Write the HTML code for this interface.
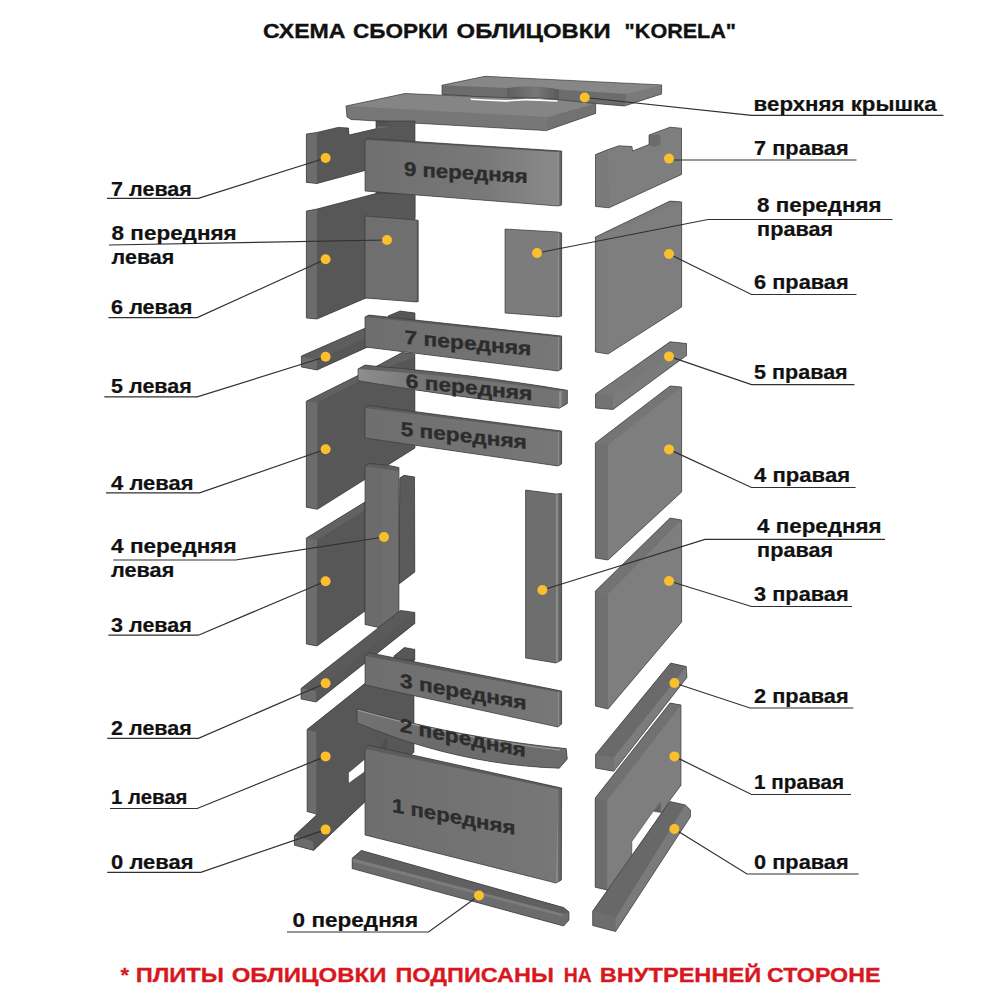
<!DOCTYPE html>
<html><head><meta charset="utf-8"><style>
html,body{margin:0;padding:0;background:#fff;}
body{width:1000px;height:1000px;overflow:hidden;font-family:"Liberation Sans",sans-serif;}
svg{display:block;}
</style></head><body>
<svg width="1000" height="1000" viewBox="0 0 1000 1000">
<defs>
<linearGradient id="gF" x1="365" y1="0" x2="558" y2="0" gradientUnits="userSpaceOnUse"><stop offset="0" stop-color="#6e6e6e"/><stop offset="1" stop-color="#777777"/></linearGradient>
<linearGradient id="gF9" x1="365" y1="0" x2="558" y2="0" gradientUnits="userSpaceOnUse"><stop offset="0" stop-color="#6f6f6f"/><stop offset="0.6" stop-color="#787878"/><stop offset="1" stop-color="#8a8a8a"/></linearGradient>
<linearGradient id="gE" x1="0" y1="0" x2="1" y2="0"><stop offset="0" stop-color="#939393"/><stop offset="0.3" stop-color="#868686"/><stop offset="0.45" stop-color="#6a6a6a"/><stop offset="1" stop-color="#5c5c5c"/></linearGradient>
<linearGradient id="gEnd" x1="0" y1="0" x2="1" y2="0"><stop offset="0" stop-color="#9a9a9a"/><stop offset="0.25" stop-color="#8a8a8a"/><stop offset="0.35" stop-color="#707070"/><stop offset="1" stop-color="#6a6a6a"/></linearGradient>
<linearGradient id="gBar" x1="358" y1="0" x2="430" y2="0" gradientUnits="userSpaceOnUse"><stop offset="0" stop-color="#8e8e8e"/><stop offset="1" stop-color="#737373"/></linearGradient>
<linearGradient id="gBar2" x1="357" y1="0" x2="430" y2="0" gradientUnits="userSpaceOnUse"><stop offset="0" stop-color="#727272"/><stop offset="1" stop-color="#6c6c6c"/></linearGradient>
<linearGradient id="gNotch" x1="507" y1="0" x2="559" y2="0" gradientUnits="userSpaceOnUse"><stop offset="0" stop-color="#5e5e5e"/><stop offset="0.55" stop-color="#787878"/><stop offset="1" stop-color="#5a5a5a"/></linearGradient>
</defs>
<polygon points="441.92,85.21 441.99,85.21 441.99,94.41 506.99,98.51 513.5,97.89 520,97.51 526.5,97.39 533,97.51 539.5,97.89 546,98.51 552.5,99.39 559.01,100.51 624.39,106.01 661.61,94.01 661.61,84.91 661.67,84.89 661.61,84.89 485,76.29 441.92,85.21" fill="#878787"/>
<polygon points="442,85.2 485,76.3 661.6,84.9 626.8,94 559,89.5 552.5,88.32 546,87.42 539.5,86.8 533,86.47 526.5,86.43 520,86.67 513.5,87.19 507,88" fill="#878787" />
<polygon points="442,85.2 507,88 507,98.5 442,94.4" fill="#6c6c6c" />
<polygon points="559,89.5 626.8,94 624.4,106 559,100.5" fill="#6c6c6c" />
<polygon points="626.8,94 661.6,84.9 661.6,94 624.4,106" fill="#7a7a7a" />
<polygon points="507,88 513.5,87.19 520,86.67 526.5,86.43 533,86.47 539.5,86.8 546,87.42 552.5,88.32 559,89.5 559,100.5 552.5,99.38 546,98.5 539.5,97.88 533,97.5 526.5,97.38 520,97.5 513.5,97.88 507,98.5" fill="url(#gNotch)" />
<polygon points="441.92,85.21 441.99,85.21 441.99,94.41 506.99,98.51 513.5,97.89 520,97.51 526.5,97.39 533,97.51 539.5,97.89 546,98.51 552.5,99.39 559.01,100.51 624.39,106.01 661.61,94.01 661.61,84.91 661.67,84.89 661.61,84.89 485,76.29 441.92,85.21" fill="none" stroke="#333333" stroke-width="0.6" stroke-linejoin="round"/>
<polygon points="345.92,106.01 345.99,106.01 346.99,117.01 351,119.51 546.39,130.61 595.61,113.41 595.65,103.6 557,99.49 470,96.39 405,93.49 345.92,106.01" fill="#858585"/>
<polygon points="346,106 405,93.5 470,96.4 557,99.5 595.6,103.6 547.6,117" fill="#858585" />
<polygon points="346,106 547.6,117 546.4,130.6 351,119.5 347,117" fill="#777777" />
<polygon points="547.6,117 595.6,103.6 595.6,113.4 546.4,130.6" fill="#727272" />
<polygon points="345.92,106.01 345.99,106.01 346.99,117.01 351,119.51 546.39,130.61 595.61,113.41 595.65,103.6 557,99.49 470,96.39 405,93.49 345.92,106.01" fill="none" stroke="#333333" stroke-width="0.6" stroke-linejoin="round"/>
<polygon points="470.5,98.6 490,99.4 506,100.1 516,99.4 526,98.8 540,99.3 557.5,100.2 557.5,101.8 540,100.9 526,100.4 516,101 506,101.7 490,101 471,100.1" fill="#ffffff"/>
<polygon points="316.99,183.51 375.99,167.59 375.99,218.01 415.01,218.01 415.01,120.99 375.99,120.99 375.99,128.72 349.01,134.99 348.41,127.99 338,127.39 317,132.39 306.39,133.99 306.39,182.41 316.99,183.51" fill="#575757"/>
<polygon points="376,121 415,121 415,218 376,218" fill="#575757" />
<polygon points="317,132.4 338,127.4 348.4,128 349,135 377,128.5 380,128 380,166.5 317,183.5" fill="#575757" />
<polygon points="377.4,121 387.6,121 387.6,126.6 377.4,128" fill="#525252" />
<polygon points="377.4,126.6 387.6,126.2 387.6,127.3 377.4,128.2" fill="#6a6a6a" />
<polygon points="306.4,134 317,132.4 317,183.5 306.4,182.4" fill="#6c6c6c" />
<polygon points="316.99,183.51 375.99,167.59 375.99,218.01 415.01,218.01 415.01,120.99 375.99,120.99 375.99,128.72 349.01,134.99 348.41,127.99 338,127.39 317,132.39 306.39,133.99 306.39,182.41 316.99,183.51" fill="none" stroke="#333333" stroke-width="0.6" stroke-linejoin="round"/>
<polygon points="316.99,319.02 415.01,277.01 415.01,192.99 378,192.99 317,208.99 306.39,210.99 306.39,318.01 316.99,319.02" fill="#575757"/>
<polygon points="317,209 378,193 415,193 415,277 317,319" fill="#575757" />
<polygon points="306.4,211 317,209 317,319 306.4,318" fill="#6c6c6c" />
<polygon points="316.99,319.02 415.01,277.01 415.01,192.99 378,192.99 317,208.99 306.39,210.99 306.39,318.01 316.99,319.02" fill="none" stroke="#333333" stroke-width="0.6" stroke-linejoin="round"/>
<polygon points="364.96,140.01 364.99,191.01 557.99,206.01 561.61,205.01 561.66,150.99 368,138.49 364.96,140.01" fill="#6e6e6e"/>
<polygon points="365,140 558,152 558,206 365,191" fill="url(#gF9)" />
<polygon points="365,140 368,138.5 561.6,151 558,152" fill="#5c5c5c" />
<polygon points="558,152 561.6,151 561.6,205 558,206" fill="url(#gE)" />
<polygon points="364.96,140.01 364.99,191.01 557.99,206.01 561.61,205.01 561.66,150.99 368,138.49 364.96,140.01" fill="none" stroke="#333333" stroke-width="0.6" stroke-linejoin="round"/>
<polygon points="364.99,298.01 416.49,302.01 418.21,301.51 418.21,220.49 416.49,219.99 364.99,215.99 364.99,298.01" fill="#6f6f6f"/>
<polygon points="365,216 416.5,220 416.5,302 365,298" fill="#6f6f6f" />
<polygon points="416.5,220 418.2,220.5 418.2,301.5 416.5,302" fill="#5e5e5e" />
<polygon points="364.99,298.01 416.49,302.01 418.21,301.51 418.21,220.49 416.49,219.99 364.99,215.99 364.99,298.01" fill="none" stroke="#333333" stroke-width="0.6" stroke-linejoin="round"/>
<polygon points="607.99,149.59 595.49,154.49 595.49,206.51 609.01,207.81 681.51,174.51 681.51,128.19 670,127.19 648.99,134.99 648.99,144.49 632.51,150.99 632.01,146.49 619,145.79 607.99,149.59" fill="#7e7e7e"/>
<polygon points="608,149.6 619,145.8 632,146.5 632.5,151 649,144.5 649,135 670,127.2 681.5,128.2 681.5,174.5 609,207.8" fill="#7e7e7e" />
<polygon points="595.5,154.5 608,149.6 609,207.8 595.5,206.5" fill="#7a7a7a" />
<polygon points="649,135.5 659,134.5 660.5,136.5 660.5,144.5 654,147 649,145" fill="#6c6c6c" />
<polygon points="607.99,149.59 595.49,154.49 595.49,206.51 609.01,207.81 681.51,174.51 681.51,128.19 670,127.19 648.99,134.99 648.99,144.49 632.51,150.99 632.01,146.49 619,145.79 607.99,149.59" fill="none" stroke="#333333" stroke-width="0.6" stroke-linejoin="round"/>
<polygon points="504.99,313.01 557.99,317.01 561.61,316.01 561.61,232.99 557.99,231.99 504.99,228.99 504.99,313.01" fill="#7c7c7c"/>
<polygon points="505,229 558,232 558,317 505,313" fill="#7c7c7c" />
<polygon points="558,232 561.6,233 561.6,316 558,317" fill="url(#gE)" />
<polygon points="504.99,313.01 557.99,317.01 561.61,316.01 561.61,232.99 557.99,231.99 504.99,228.99 504.99,313.01" fill="none" stroke="#333333" stroke-width="0.6" stroke-linejoin="round"/>
<polygon points="595.27,237.05 595.39,237.01 595.39,352.01 607.99,354.02 681.61,307.01 681.64,201.99 670,200.99 595.27,237.05" fill="#7e7e7e"/>
<polygon points="608,233 670,201 681.6,202 681.6,307 608,354" fill="#7e7e7e" />
<polygon points="595.4,237 608,233 608,354 595.4,352" fill="#7c7c7c" />
<polygon points="595.4,237 670,201 681.6,202 608,233" fill="#7b7b7b" />
<polygon points="595.27,237.05 595.39,237.01 595.39,352.01 607.99,354.02 681.61,307.01 681.64,201.99 670,200.99 595.27,237.05" fill="none" stroke="#333333" stroke-width="0.6" stroke-linejoin="round"/>
<polygon points="387.99,315.99 387.99,322.01 415.01,322.01 415.01,312.99 400,310.99 387.99,315.99" fill="#575757"/>
<polygon points="388,316 400,311 415,313 415,322 388,322" fill="#575757" />
<polygon points="387.99,315.99 387.99,322.01 415.01,322.01 415.01,312.99 400,310.99 387.99,315.99" fill="none" stroke="#333333" stroke-width="0.6" stroke-linejoin="round"/>
<polygon points="301.37,356 301.39,367.01 317.01,370.01 370.01,346.01 370.01,325.98 301.37,356" fill="#575757"/>
<polygon points="317,360 370,336.3 370,346 317,370" fill="#575757" />
<polygon points="301.4,356 370,326 370,336.3 317,360" fill="#5e5e5e" />
<polygon points="301.4,356 317,360 317,370 301.4,367" fill="#6c6c6c" />
<polygon points="301.37,356 301.39,367.01 317.01,370.01 370.01,346.01 370.01,325.98 301.37,356" fill="none" stroke="#333333" stroke-width="0.6" stroke-linejoin="round"/>
<polygon points="306.27,401.21 306.29,507.21 317.41,509.31 415.01,448.01 414.81,353.99 402,352.49 377,365.99 306.27,401.21" fill="#575757"/>
<polygon points="317.4,402.7 357,382.3 388.4,367 414.8,357 415,448 317.4,509.3" fill="#575757" />
<polygon points="306.3,401.2 357,376 377,366 402,352.5 414.8,354 414.8,357 388.4,367 357,382.3 317.4,402.7" fill="#616161" />
<polygon points="306.3,401.2 317.4,402.7 317.4,509.3 306.3,507.2" fill="#6c6c6c" />
<polygon points="306.27,401.21 306.29,507.21 317.41,509.31 415.01,448.01 414.81,353.99 402,352.49 377,365.99 306.27,401.21" fill="none" stroke="#333333" stroke-width="0.6" stroke-linejoin="round"/>
<polygon points="364.96,317.01 364.99,347.01 557.99,371.02 561.61,369.01 561.65,336 369,314.99 364.96,317.01" fill="#6e6e6e"/>
<polygon points="365,317 558,337 558,371 365,347" fill="url(#gF)" />
<polygon points="365,317 369,315 561.6,336 558,337" fill="#5c5c5c" />
<polygon points="558,337 561.6,336 561.6,369 558,371" fill="url(#gE)" />
<polygon points="364.96,317.01 364.99,347.01 557.99,371.02 561.61,369.01 561.65,336 369,314.99 364.96,317.01" fill="none" stroke="#333333" stroke-width="0.6" stroke-linejoin="round"/>
<polygon points="357.97,369.01 357.99,380.61 378.37,384.02 398.69,387.28 418.96,390.4 439.17,393.38 459.32,396.21 479.43,398.9 499.48,401.44 519.47,403.84 539.41,406.1 559.29,408.22 567.31,403.61 567.31,390.31 567.38,390.3 567.31,390.29 543.02,386.35 518.83,382.67 494.73,379.26 470.72,376.11 446.81,373.24 422.98,370.62 399.25,368.27 375.6,366.19 365,364.99 357.97,369.01" fill="#626262"/>
<polygon points="358,369 365,365 375.6,366.2 399.25,368.28 422.98,370.63 446.81,373.25 470.72,376.12 494.73,379.27 518.83,382.68 543.02,386.36 567.3,390.3 559.3,391 541.21,388.26 522.67,385.64 503.68,383.14 484.23,380.76 464.32,378.5 443.97,376.36 423.16,374.34 401.89,372.44 380.17,370.66 358,369" fill="#626262" />
<polygon points="358,369 380.17,370.66 401.89,372.44 423.16,374.34 443.97,376.36 464.32,378.5 484.23,380.76 503.68,383.14 522.67,385.64 541.21,388.26 559.3,391 567.3,390.3 567.3,403.6 559.3,408.2 539.41,406.09 519.47,403.83 499.48,401.43 479.43,398.89 459.32,396.2 439.17,393.37 418.96,390.39 398.69,387.27 378.37,384.01 358,380.6" fill="url(#gBar)" />
<polygon points="559.3,391 567.3,390.3 567.3,403.6 559.3,408.2" fill="url(#gEnd)" />
<polygon points="357.97,369.01 357.99,380.61 378.37,384.02 398.69,387.28 418.96,390.4 439.17,393.38 459.32,396.21 479.43,398.9 499.48,401.44 519.47,403.84 539.41,406.1 559.29,408.22 567.31,403.61 567.31,390.31 567.38,390.3 567.31,390.29 543.02,386.35 518.83,382.67 494.73,379.26 470.72,376.11 446.81,373.24 422.98,370.62 399.25,368.27 375.6,366.19 365,364.99 357.97,369.01" fill="none" stroke="#333333" stroke-width="0.6" stroke-linejoin="round"/>
<polygon points="364.97,408.01 364.99,438.01 557.99,466.02 561.61,464.01 561.65,431 369,405.49 364.97,408.01" fill="#6e6e6e"/>
<polygon points="365,408 558,432 558,466 365,438" fill="url(#gF)" />
<polygon points="365,408 369,405.5 561.6,431 558,432" fill="#5c5c5c" />
<polygon points="558,432 561.6,431 561.6,464 558,466" fill="url(#gE)" />
<polygon points="364.97,408.01 364.99,438.01 557.99,466.02 561.61,464.01 561.65,431 369,405.49 364.97,408.01" fill="none" stroke="#333333" stroke-width="0.6" stroke-linejoin="round"/>
<polygon points="595.47,394.01 595.49,408.01 613.01,409.51 686.51,355.51 686.53,343.49 670,341.79 595.47,394.01" fill="#7b7b7b"/>
<polygon points="612.5,396 686.5,343.5 686.5,355.5 613,409.5" fill="#7b7b7b" />
<polygon points="595.5,394 670,341.8 686.5,343.5 612.5,396" fill="#787878" />
<polygon points="595.5,394 612.5,396 613,409.5 595.5,408" fill="#727272" />
<polygon points="595.47,394.01 595.49,408.01 613.01,409.51 686.51,355.51 686.53,343.49 670,341.79 595.47,394.01" fill="none" stroke="#333333" stroke-width="0.6" stroke-linejoin="round"/>
<polygon points="595.38,443.01 595.39,558.01 607.99,560.02 681.61,492 681.63,386.99 670,385.99 595.38,443.01" fill="#7e7e7e"/>
<polygon points="608,445 681.6,387 681.6,492 608,560" fill="#7e7e7e" />
<polygon points="595.4,443 670,386 681.6,387 608,445" fill="#757575" />
<polygon points="595.4,443 608,445 608,560 595.4,558" fill="#717171" />
<polygon points="595.38,443.01 595.39,558.01 607.99,560.02 681.61,492 681.63,386.99 670,385.99 595.38,443.01" fill="none" stroke="#333333" stroke-width="0.6" stroke-linejoin="round"/>
<polygon points="306.37,538.01 306.39,644.01 316.99,646.02 365.01,611.01 365.01,501.98 306.37,538.01" fill="#575757"/>
<polygon points="317,540 365,510 365,611 317,646" fill="#575757" />
<polygon points="306.4,538 365,502 365,510 317,540" fill="#626262" />
<polygon points="306.4,538 317,540 317,646 306.4,644" fill="#6c6c6c" />
<polygon points="306.37,538.01 306.39,644.01 316.99,646.02 365.01,611.01 365.01,501.98 306.37,538.01" fill="none" stroke="#333333" stroke-width="0.6" stroke-linejoin="round"/>
<polygon points="399.79,478.09 398.99,584.02 414.81,572 414.51,476.99 404,475.29 399.79,478.09" fill="#5a5a5a"/>
<polygon points="399.8,478.1 404,475.3 414.5,477 414.8,572 399,584" fill="#5a5a5a" />
<polygon points="399.79,478.09 398.99,584.02 414.81,572 414.51,476.99 404,475.29 399.79,478.09" fill="none" stroke="#333333" stroke-width="0.6" stroke-linejoin="round"/>
<polygon points="364.97,466.51 364.99,624.51 382.99,628.51 392,630.01 399.01,627.01 399.01,467.59 389.3,465.49 369,463.39 364.97,466.51" fill="#6b6b6b"/>
<polygon points="365,466.5 383,468.9 383,628.5 365,624.5" fill="#6b6b6b" />
<polygon points="383,468.9 399,471 399,627 392,630 383,628.5" fill="#6e6e6e" />
<polygon points="365,466.5 369,463.4 389.3,465.5 399,467.6 399,471 383,468.9" fill="#5e5e5e" />
<polygon points="364.97,466.51 364.99,624.51 382.99,628.51 392,630.01 399.01,627.01 399.01,467.59 389.3,465.49 369,463.39 364.97,466.51" fill="none" stroke="#333333" stroke-width="0.6" stroke-linejoin="round"/>
<polygon points="525.59,658.01 555.99,663.02 561.61,660.01 561.61,493.59 556,493.99 525.59,489.99 525.59,658.01" fill="#6e6e6e"/>
<polygon points="525.6,490 556,494 556,663 525.6,658" fill="#6e6e6e" />
<polygon points="556,494 561.6,493.6 561.6,660 556,663" fill="url(#gE)" />
<polygon points="525.59,658.01 555.99,663.02 561.61,660.01 561.61,493.59 556,493.99 525.59,489.99 525.59,658.01" fill="none" stroke="#333333" stroke-width="0.6" stroke-linejoin="round"/>
<polygon points="595.38,591.01 595.39,706.01 607.99,709.03 681.61,622 681.61,519.98 670,517.99 595.38,591.01" fill="#7e7e7e"/>
<polygon points="608,594 681.6,520 681.6,622 608,709" fill="#7e7e7e" />
<polygon points="595.4,591 670,518 681.6,520 608,594" fill="#737373" />
<polygon points="595.4,591 608,594 608,709 595.4,706" fill="#707070" />
<polygon points="595.38,591.01 595.39,706.01 607.99,709.03 681.61,622 681.61,519.98 670,517.99 595.38,591.01" fill="none" stroke="#333333" stroke-width="0.6" stroke-linejoin="round"/>
<polygon points="294.38,835.6 294.39,845.21 313.61,850.41 364.81,802.01 414.01,752 414.01,649.98 364.69,683.59 307.09,729.49 307.09,811.61 316.39,814.01 315.99,815.59 294.38,835.6" fill="#575757"/>
<polygon points="307.1,729.5 364.7,683.6 414,650 414,752 364.8,802 313.6,850.4 312.8,841.2 294.4,835.6 316,815.6 316.4,814" fill="#575757" />
<polygon points="307.1,729.5 316.4,732.2 316.4,814 307.1,811.6" fill="#6c6c6c" />
<polygon points="294.4,835.6 312.8,841.2 313.6,850.4 294.4,845.2" fill="#6c6c6c" />
<polygon points="294.38,835.6 294.39,845.21 313.61,850.41 364.81,802.01 414.01,752 414.01,649.98 364.69,683.59 307.09,729.49 307.09,811.61 316.39,814.01 315.99,815.59 294.38,835.6" fill="none" stroke="#333333" stroke-width="0.6" stroke-linejoin="round"/>
<polygon points="348.5,772.7 364.7,759.2 364.7,771.8 348.5,783.5" fill="#ffffff" stroke="#333" stroke-width="0.5"/>
<polygon points="300.98,688.41 300.99,699.01 316.01,702.01 414.81,623.4 414.82,612.39 400.5,610.39 300.98,688.41" fill="#575757"/>
<polygon points="316,691 414.8,612.4 414.8,623.4 316,702" fill="#575757" />
<polygon points="301,688.4 400.5,610.4 414.8,612.4 316,691" fill="#5a5a5a" />
<polygon points="301,688.4 316,691 316,702 301,699" fill="#6c6c6c" />
<polygon points="300.98,688.41 300.99,699.01 316.01,702.01 414.81,623.4 414.82,612.39 400.5,610.39 300.98,688.41" fill="none" stroke="#333333" stroke-width="0.6" stroke-linejoin="round"/>
<polygon points="393.99,656 393.99,660.01 414.81,660.01 414.81,649.39 404.4,647.49 393.99,656" fill="#575757"/>
<polygon points="394,656 404.4,647.5 414.8,649.4 414.8,660 394,660" fill="#575757" />
<polygon points="393.99,656 393.99,660.01 414.81,660.01 414.81,649.39 404.4,647.49 393.99,656" fill="none" stroke="#333333" stroke-width="0.6" stroke-linejoin="round"/>
<polygon points="364.98,656.01 364.99,685.01 557.99,727.02 561.61,724 561.61,690.99 369,652.69 364.98,656.01" fill="#6e6e6e"/>
<polygon points="365,656 558,692 558,727 365,685" fill="url(#gF)" />
<polygon points="365,656 369,652.7 561.6,691 558,692" fill="#5c5c5c" />
<polygon points="558,692 561.6,691 561.6,724 558,727" fill="url(#gE)" />
<polygon points="364.98,656.01 364.99,685.01 557.99,727.02 561.61,724 561.61,690.99 369,652.69 364.98,656.01" fill="none" stroke="#333333" stroke-width="0.6" stroke-linejoin="round"/>
<polygon points="356.99,708.99 356.99,722.81 373.84,729.57 390.68,735.79 407.52,741.47 424.37,746.61 441.22,751.21 458.07,755.26 474.94,758.77 491.8,761.74 508.67,764.17 525.54,766.06 542.42,767.41 559.3,768.21 567.31,759 566.21,748.59 548.68,746.7 531.17,744.55 513.67,742.14 496.2,739.48 478.74,736.56 461.3,733.39 443.87,729.96 426.47,726.28 409.07,722.34 391.7,718.15 374.34,713.7 356.99,708.99" fill="#6e6e6e"/>
<polygon points="357,709 374.34,713.71 391.7,718.16 409.07,722.35 426.47,726.29 443.87,729.97 461.3,733.4 478.74,736.57 496.2,739.49 513.67,742.15 531.17,744.56 548.68,746.71 566.2,748.6 567.3,759 559.3,768.2 542.42,767.4 525.54,766.05 508.67,764.16 491.8,761.73 474.94,758.76 458.07,755.25 441.22,751.2 424.37,746.6 407.52,741.46 390.68,735.78 373.84,729.56 357,722.8" fill="url(#gBar2)" />
<polygon points="356.99,708.99 356.99,722.81 373.84,729.57 390.68,735.79 407.52,741.47 424.37,746.61 441.22,751.21 458.07,755.26 474.94,758.77 491.8,761.74 508.67,764.17 525.54,766.06 542.42,767.41 559.3,768.21 567.31,759 566.21,748.59 548.68,746.7 531.17,744.55 513.67,742.14 496.2,739.48 478.74,736.56 461.3,733.39 443.87,729.96 426.47,726.28 409.07,722.34 391.7,718.15 374.34,713.7 356.99,708.99" fill="none" stroke="#333333" stroke-width="0.6" stroke-linejoin="round"/>
<polyline points="357.6,710.1 374.8,714.79 391.94,719.24 409.02,723.43 426.04,727.38 443,731.08 459.9,734.52 476.74,737.73 493.51,740.68 510.23,743.38 526.88,745.84 543.47,748.04 560,750" fill="none" stroke="#b5b5b5" stroke-width="0.7"/>
<polygon points="379.98,747.51 386.81,747.51 386.81,737.97 379.98,747.51" fill="#4e4e4e"/>
<polygon points="380,747.5 386.8,738 386.8,747.5" fill="#4e4e4e" />
<polygon points="364.98,749.01 364.99,835.01 555.99,883.02 561.41,880.01 561.64,788 368.4,745.19 364.98,749.01" fill="#6e6e6e"/>
<polygon points="365,749 558,789 556,883 365,835" fill="url(#gF)" />
<polygon points="365,749 368.4,745.2 561.6,788 558,789" fill="#5c5c5c" />
<polygon points="558,789 561.6,788 561.4,880 556,883" fill="url(#gE)" />
<polygon points="364.98,749.01 364.99,835.01 555.99,883.02 561.41,880.01 561.64,788 368.4,745.19 364.98,749.01" fill="none" stroke="#333333" stroke-width="0.6" stroke-linejoin="round"/>
<polygon points="352.13,858.2 352.14,868.61 563.6,926.01 569.01,920 569.02,912 563.6,907.59 361.3,850.39 352.13,858.2" fill="#6c6c6c"/>
<polygon points="352.15,858.2 361.3,850.4 563.6,907.6 569,912 569,920 563.6,926 352.15,868.6" fill="#6c6c6c" />
<polygon points="352.15,858.2 361.3,850.4 563.6,907.6 569,912 563.6,914.1" fill="#606060" />
<polygon points="352.15,858.2 563.6,914.1 563.6,916.7 352.15,861.5" fill="#7c7c7c" />
<polygon points="352.13,858.2 352.14,868.61 563.6,926.01 569.01,920 569.02,912 563.6,907.59 361.3,850.39 352.13,858.2" fill="none" stroke="#333333" stroke-width="0.6" stroke-linejoin="round"/>
<polygon points="595.58,754.41 595.59,768.11 613.76,771.26 686.91,677.5 686.26,666.47 670.6,663.09 595.58,754.41" fill="#7c7c7c"/>
<polygon points="613.75,757.5 686.25,666.5 686.9,677.5 613.75,771.25" fill="#7c7c7c" />
<polygon points="595.6,754.4 670.6,663.1 686.25,666.5 613.75,757.5" fill="#6a6a6a" />
<polygon points="595.6,754.4 613.75,757.5 613.75,771.25 595.6,768.1" fill="#727272" />
<polygon points="595.58,754.41 595.59,768.11 613.76,771.26 686.91,677.5 686.26,666.47 670.6,663.09 595.58,754.41" fill="none" stroke="#333333" stroke-width="0.6" stroke-linejoin="round"/>
<polygon points="595.18,798.01 595.19,887.31 607.09,889.91 607.09,892.01 615.01,892.01 640.01,852.01 661.01,814.01 669.51,800.71 681.01,785.3 681.02,704.99 670,702.99 595.18,798.01" fill="#7e7e7e"/>
<polygon points="607.1,800.6 670,703 681,705 681,785.3 669.5,800.7 661,814 640,852 615,892 607.1,892" fill="#7e7e7e" />
<polygon points="595.2,798 670,703 681,705 607.1,800.6" fill="#717171" />
<polygon points="595.2,798 607.1,800.6 607.1,889.9 595.2,887.3" fill="#6c6c6c" />
<polygon points="660.75,801.75 660.75,812.25 653.25,811.25" fill="#626262" />
<polygon points="595.18,798.01 595.19,887.31 607.09,889.91 607.09,892.01 615.01,892.01 640.01,852.01 661.01,814.01 669.51,800.71 681.01,785.3 681.02,704.99 670,702.99 595.18,798.01" fill="none" stroke="#333333" stroke-width="0.6" stroke-linejoin="round"/>
<polygon points="653.25,811.25 660.75,812.4 661,813.8 631.8,856 631.8,841.6" fill="#ffffff" stroke="#333" stroke-width="0.5"/>
<polygon points="592.68,911.11 592.69,925.61 615.61,931.51 690.41,816.8 690.41,810 685.32,804.89 670,801.49 592.68,911.11" fill="#7a7a7a"/>
<polygon points="615.6,917.9 685.3,804.9 690.4,810 690.4,816.8 615.6,931.5" fill="#7a7a7a" />
<polygon points="592.7,911.1 670,801.5 685.3,804.9 615.6,917.9" fill="#686868" />
<polygon points="592.7,911.1 615.6,917.9 615.6,931.5 592.7,925.6" fill="#6e6e6e" />
<polygon points="592.68,911.11 592.69,925.61 615.61,931.51 690.41,816.8 690.41,810 685.32,804.89 670,801.49 592.68,911.11" fill="none" stroke="#333333" stroke-width="0.6" stroke-linejoin="round"/>
<g font-family="Liberation Sans, sans-serif" font-weight="bold" fill="#2c2c2c" stroke="#2c2c2c" stroke-width="0.35">
<text transform="translate(403.9 175.6) skewY(3.4)" x="0" y="0" font-size="19.5" textLength="123.7" lengthAdjust="spacingAndGlyphs">9 передняя</text>
<text transform="translate(404.6 343.7) skewY(5.3)" x="0" y="0" font-size="19.5" textLength="126.7" lengthAdjust="spacingAndGlyphs">7 передняя</text>
<text transform="translate(405.7 387.5) skewY(5.8)" x="0" y="0" font-size="19.5" textLength="126.7" lengthAdjust="spacingAndGlyphs">6 передняя</text>
<text transform="translate(400.65 435.6) skewY(6.0)" x="0" y="0" font-size="19.5" textLength="126.2" lengthAdjust="spacingAndGlyphs">5 передняя</text>
<text transform="translate(399.9 687.0) skewY(10.2)" x="0" y="0" font-size="19.5" textLength="126.7" lengthAdjust="spacingAndGlyphs">3 передняя</text>
<text transform="translate(399.65 731.6) skewY(11.4)" x="0" y="0" font-size="19.5" textLength="126.2" lengthAdjust="spacingAndGlyphs">2 передняя</text>
<text transform="translate(391.9 811.7) skewY(10.6)" x="0" y="0" font-size="19.5" textLength="123.5" lengthAdjust="spacingAndGlyphs">1 передняя</text>
</g>
<g fill="none" stroke="#303030" stroke-width="1.2">
<polyline points="107,198.4 198.4,198.4 325.6,158"/>
<polyline points="109,245 387,240"/>
<polyline points="108.4,317.6 197.2,317.6 325.6,259.3"/>
<polyline points="104.3,396.9 197.2,396.9 325.6,356.8"/>
<polyline points="106,492.9 199.6,492.9 325.6,449.2"/>
<polyline points="113.2,560 235.6,560 384,537"/>
<polyline points="108.4,635.2 198.4,635.2 325.6,581.2"/>
<polyline points="107.2,738.4 198.4,738.4 325.6,683.2"/>
<polyline points="110,808.5 197.2,808.5 325.6,756.4"/>
<polyline points="107.2,872.3 200.8,872.3 325.6,829.6"/>
<polyline points="943.5,115.4 751.5,115.4 584.7,97.5"/>
<polyline points="856.5,160 669,160"/>
<polyline points="892.5,219.5 708,219.5 537,253"/>
<polyline points="856.5,294.5 751.5,294.5 669,254"/>
<polyline points="854.4,384.6 751.5,384.6 669,356.4"/>
<polyline points="855.6,487.5 751.5,487.5 669,449.4"/>
<polyline points="885,539.4 705,539.4 542.4,590"/>
<polyline points="852,606.5 751.5,606.5 669,581"/>
<polyline points="853.5,708 750,708 674.4,683"/>
<polyline points="851,794.5 751.5,794.5 674.4,756.4"/>
<polyline points="858.6,874 747,874 674.4,829"/>
<polyline points="287,932 428.5,932 479,895.5"/>
</g>
<g fill="#f9bf2c">
<circle cx="325.6" cy="158" r="5"/>
<circle cx="387" cy="240" r="5"/>
<circle cx="325.6" cy="259.3" r="5"/>
<circle cx="325.6" cy="356.8" r="5"/>
<circle cx="325.6" cy="449.2" r="5"/>
<circle cx="384" cy="537" r="5"/>
<circle cx="325.6" cy="581.2" r="5"/>
<circle cx="325.6" cy="683.2" r="5"/>
<circle cx="325.6" cy="756.4" r="5"/>
<circle cx="325.6" cy="829.6" r="5"/>
<circle cx="584.7" cy="97.5" r="5"/>
<circle cx="669" cy="158.6" r="5"/>
<circle cx="537" cy="253" r="5"/>
<circle cx="669" cy="254" r="5"/>
<circle cx="669" cy="356.4" r="5"/>
<circle cx="669" cy="449.4" r="5"/>
<circle cx="542.4" cy="590" r="5"/>
<circle cx="669" cy="581" r="5"/>
<circle cx="674.4" cy="683" r="5"/>
<circle cx="674.4" cy="756.4" r="5"/>
<circle cx="674.4" cy="829" r="5"/>
<circle cx="479" cy="895.5" r="5"/>
</g>
<g font-family="Liberation Sans, sans-serif" font-weight="bold" fill="#111111" stroke="#111111" stroke-width="0.2">
<text x="111.1" y="196" font-size="19.5" textLength="80.8" lengthAdjust="spacingAndGlyphs">7 левая</text>
<text x="111.6" y="239.6" font-size="19.5" textLength="125.1" lengthAdjust="spacingAndGlyphs">8 передняя</text>
<text x="111.6" y="263.6" font-size="19.5" textLength="62.7" lengthAdjust="spacingAndGlyphs">левая</text>
<text x="111.1" y="314" font-size="19.5" textLength="81.2" lengthAdjust="spacingAndGlyphs">6 левая</text>
<text x="111.1" y="392.8" font-size="19.5" textLength="80.7" lengthAdjust="spacingAndGlyphs">5 левая</text>
<text x="111.1" y="490" font-size="19.5" textLength="82.4" lengthAdjust="spacingAndGlyphs">4 левая</text>
<text x="111.1" y="552.9" font-size="19.5" textLength="125.6" lengthAdjust="spacingAndGlyphs">4 передняя</text>
<text x="111.1" y="576.9" font-size="19.5" textLength="63.2" lengthAdjust="spacingAndGlyphs">левая</text>
<text x="111.1" y="631.6" font-size="19.5" textLength="80.7" lengthAdjust="spacingAndGlyphs">3 левая</text>
<text x="111.1" y="734.8" font-size="19.5" textLength="80.7" lengthAdjust="spacingAndGlyphs">2 левая</text>
<text x="111.1" y="803.7" font-size="19.5" textLength="76.4" lengthAdjust="spacingAndGlyphs">1 левая</text>
<text x="111.1" y="869.2" font-size="19.5" textLength="82.4" lengthAdjust="spacingAndGlyphs">0 левая</text>
<text x="753.6" y="110.9" font-size="19.5" textLength="183" lengthAdjust="spacingAndGlyphs">верхняя крышка</text>
<text x="754.1" y="155" font-size="19.5" textLength="94.5" lengthAdjust="spacingAndGlyphs">7 правая</text>
<text x="757.1" y="212" font-size="19.5" textLength="124.5" lengthAdjust="spacingAndGlyphs">8 передняя</text>
<text x="757.1" y="236" font-size="19.5" textLength="76" lengthAdjust="spacingAndGlyphs">правая</text>
<text x="754.1" y="288.5" font-size="19.5" textLength="94.5" lengthAdjust="spacingAndGlyphs">6 правая</text>
<text x="754.1" y="378.6" font-size="19.5" textLength="93.6" lengthAdjust="spacingAndGlyphs">5 правая</text>
<text x="754.1" y="481.5" font-size="19.5" textLength="96" lengthAdjust="spacingAndGlyphs">4 правая</text>
<text x="757.1" y="532.5" font-size="19.5" textLength="124.5" lengthAdjust="spacingAndGlyphs">4 передняя</text>
<text x="757.1" y="557" font-size="19.5" textLength="76" lengthAdjust="spacingAndGlyphs">правая</text>
<text x="754.1" y="600.5" font-size="19.5" textLength="94.5" lengthAdjust="spacingAndGlyphs">3 правая</text>
<text x="754.1" y="702.5" font-size="19.5" textLength="94.5" lengthAdjust="spacingAndGlyphs">2 правая</text>
<text x="754.1" y="788.5" font-size="19.5" textLength="90" lengthAdjust="spacingAndGlyphs">1 правая</text>
<text x="754.1" y="869" font-size="19.5" textLength="94.5" lengthAdjust="spacingAndGlyphs">0 правая</text>
<text x="292.6" y="926.5" font-size="19.5" textLength="125.5" lengthAdjust="spacingAndGlyphs">0 передняя</text>
<text x="263.0" y="38" font-size="20" stroke-width="0.35" textLength="82.5" lengthAdjust="spacingAndGlyphs">СХЕМА</text>
<text x="353.0" y="38" font-size="20" stroke-width="0.35" textLength="95" lengthAdjust="spacingAndGlyphs">СБОРКИ</text>
<text x="456.6" y="38" font-size="20" stroke-width="0.35" textLength="154" lengthAdjust="spacingAndGlyphs">ОБЛИЦОВКИ</text>
<text x="624.6" y="38" font-size="20" stroke-width="0.35" textLength="111.5" lengthAdjust="spacingAndGlyphs">"KORELA"</text>
<text x="120.5" y="981.8" font-size="21" fill="#d8181f" stroke="#d8181f" stroke-width="0.3" textLength="8.5" lengthAdjust="spacingAndGlyphs">*</text>
<text x="135.7" y="981.8" font-size="21" fill="#d8181f" stroke="#d8181f" stroke-width="0.3" textLength="88.3" lengthAdjust="spacingAndGlyphs">ПЛИТЫ</text>
<text x="231.7" y="981.8" font-size="21" fill="#d8181f" stroke="#d8181f" stroke-width="0.3" textLength="154.8" lengthAdjust="spacingAndGlyphs">ОБЛИЦОВКИ</text>
<text x="395.5" y="981.8" font-size="21" fill="#d8181f" stroke="#d8181f" stroke-width="0.3" textLength="158.5" lengthAdjust="spacingAndGlyphs">ПОДПИСАНЫ</text>
<text x="563.7" y="981.8" font-size="21" fill="#d8181f" stroke="#d8181f" stroke-width="0.3" textLength="28" lengthAdjust="spacingAndGlyphs">НА</text>
<text x="599.7" y="981.8" font-size="21" fill="#d8181f" stroke="#d8181f" stroke-width="0.3" textLength="161.5" lengthAdjust="spacingAndGlyphs">ВНУТРЕННЕЙ</text>
<text x="767.0" y="981.8" font-size="21" fill="#d8181f" stroke="#d8181f" stroke-width="0.3" textLength="113.5" lengthAdjust="spacingAndGlyphs">СТОРОНЕ</text>
</g>
</svg>
</body></html>
